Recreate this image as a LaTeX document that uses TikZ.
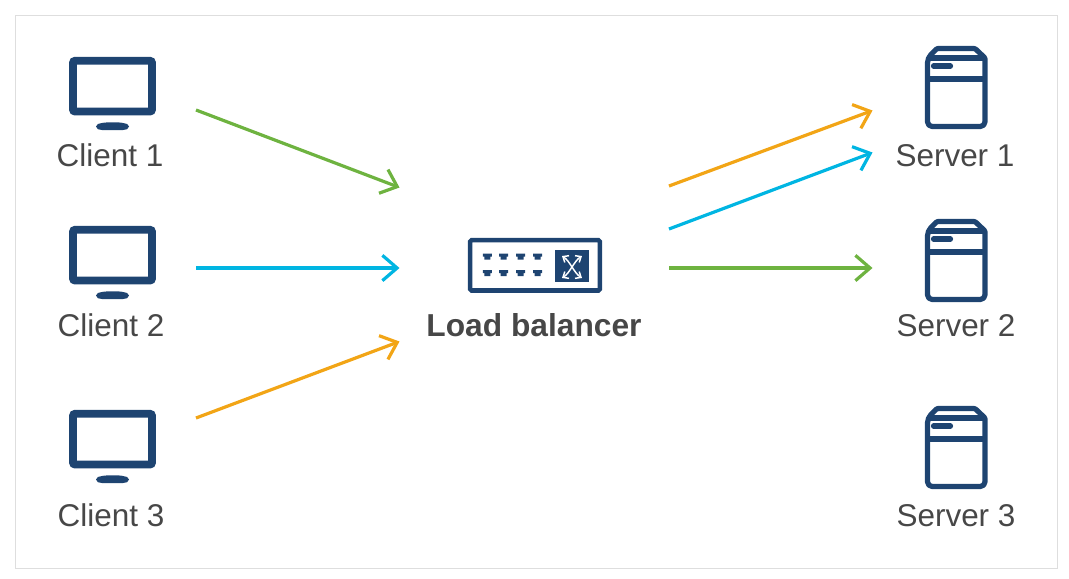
\documentclass[tikz,border=0pt]{standalone}
\usepackage{fontspec}
\setmainfont{Liberation Sans}
\usetikzlibrary{arrows.meta}
\definecolor{navy}{HTML}{1E4471}
\definecolor{ciscogreen}{HTML}{6EB340}
\definecolor{ciscoblue}{HTML}{00B5E2}
\definecolor{ciscoorange}{HTML}{F2A516}
\definecolor{labelgray}{HTML}{474747}
\tikzset{
  link/.style={line width=2.4pt, -{Straight Barb[length=11pt,width=19pt]}},
  hostlabel/.style={text=labelgray, font=\fontsize{23.6pt}{26pt}\selectfont, inner sep=0pt},
  crossarrow/.style={white, line width=1.1pt, {Straight Barb[length=3.5pt,width=6pt]}-{Straight Barb[length=3.5pt,width=6pt]}},
  monitor/.pic={
    \draw[navy, line width=5.8pt, rounded corners=1.5pt] (4,3.8) rectangle (83,54.5);
    \fill[navy] (27,69.5) .. controls (27,67) and (30,66.5) .. (33,66) .. controls (38,65) and (50,65) .. (54,66)
      .. controls (57,66.5) and (60,67) .. (60,69.5) .. controls (60,72) and (57,73) .. (54,73) -- (33,73) .. controls (30,73) and (27,72) .. (27,69.5) -- cycle;
  },
  server/.pic={
    \draw[navy, line width=3.9pt, line join=round] (2.5,12) [rounded corners=0.8pt] -- (12,2.5) -- (50,2.5) -- (60,12) [rounded corners=3.5pt] -- (60,80.5) -- (2.5,80.5) -- cycle;
    \draw[navy, line width=3.9pt] (2.5,12) -- (60,12) (2.5,33) -- (60,33);
    \draw[navy, line width=3.9pt, line cap=round] (8.5,20) -- (25.5,20);
  },
}
\begin{document}
\begin{tikzpicture}[x=0.75pt,y=-0.75pt]
\useasboundingbox (0,0) rectangle (1069,578);
\draw[color=black!13, line width=0.75pt] (15,15) rectangle (1057,568);

\pic at (69,57) {monitor};
\pic at (69,226) {monitor};
\pic at (69,410) {monitor};
\pic at (925,46) {server};
\pic at (925,219) {server};
\pic at (925,406) {server};

\node[hostlabel] (client1) at (110,155) {Client 1};
\node[hostlabel] (client2) at (111,325) {Client 2};
\node[hostlabel] (client3) at (111,515) {Client 3};
\node[hostlabel] (server1) at (955,155.5) {Server 1};
\node[hostlabel] (server2) at (956,325.5) {Server 2};
\node[hostlabel] (server3) at (956,515.5) {Server 3};
\node[hostlabel, font=\fontsize{23.8pt}{26pt}\selectfont\bfseries] (balancer) at (534,325) {Load balancer};

% switch icon
\draw[navy, line width=3.4pt, rounded corners=1pt] (470.2,240.2) rectangle (599.8,290.5);
\fill[navy] (555,250) rectangle (589,282);
\foreach \px in {487.3,503.7,520.7,537.7}
  \foreach \py in {256.7,273}
    \fill[navy] (\px-4.5,\py-3) -- (\px+4.5,\py-3) -- (\px+4.5,\py) -- (\px+3,\py) -- (\px+3,\py+3) -- (\px-3,\py+3) -- (\px-3,\py) -- (\px-4.5,\py) -- cycle;
\draw[crossarrow] (562,256) .. controls (570,261) and (574,273) .. (582,278);
\draw[crossarrow] (582,256) .. controls (574,261) and (570,273) .. (562,278);

\coordinate (c1out) at (196,110);
\coordinate (c2out) at (196,268);
\coordinate (c3out) at (196,418);
\coordinate (lbin1) at (399.5,187.5);
\coordinate (lbin2) at (399.5,268);
\coordinate (lbin3) at (399.5,341.5);
\coordinate (lbout1) at (669,186);
\coordinate (lbout2) at (669,229);
\coordinate (lbout3) at (669,268);
\coordinate (s1in1) at (872.5,110.5);
\coordinate (s1in2) at (872.5,152.5);
\coordinate (s2in) at (872.5,268);

\draw[link, ciscogreen] (c1out) -- (lbin1);
\draw[link, ciscoblue] (c2out) -- (lbin2);
\draw[link, ciscoorange] (c3out) -- (lbin3);
\draw[link, ciscoorange] (lbout1) -- (s1in1);
\draw[link, ciscoblue] (lbout2) -- (s1in2);
\draw[link, ciscogreen] (lbout3) -- (s2in);
\end{tikzpicture}
\end{document}
